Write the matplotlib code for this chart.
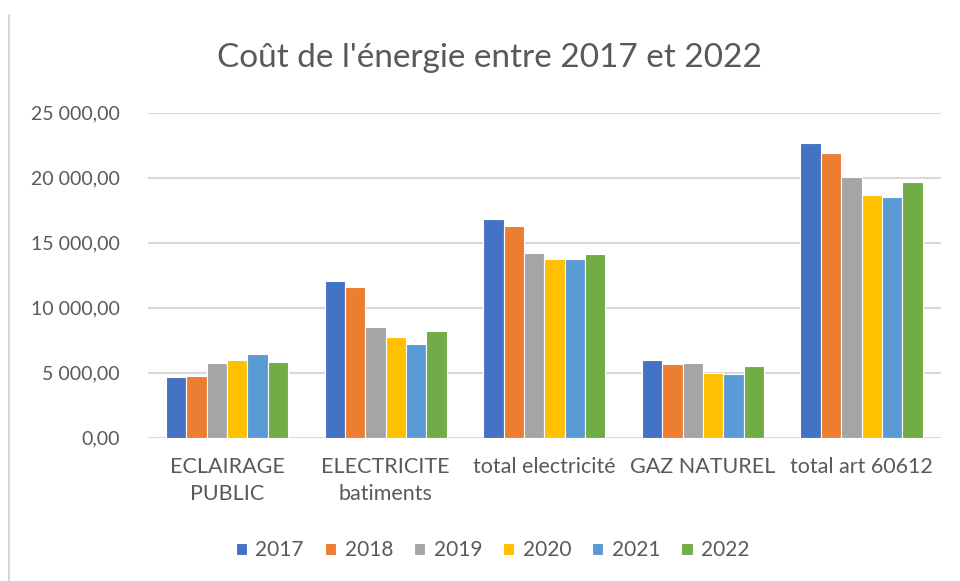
import numpy as np
import matplotlib.pyplot as plt
from matplotlib.lines import Line2D
from matplotlib.ticker import FuncFormatter

plt.rcParams['font.family'] = ['Lato', 'DejaVu Sans']

categories = ["ECLAIRAGE\nPUBLIC", "ELECTRICITE\nbatiments", "total electricité", "GAZ NATUREL", "total art 60612"]
years = ["2017", "2018", "2019", "2020", "2021", "2022"]

v2017 = [4670, 12050, 16800, 5950, 22690]
v2018 = [4770, 11560, 16310, 5640, 21920]
v2019 = [5740, 8510, 14230, 5740, 20050]
v2020 = [5950, 7720, 13720, 4950, 18640]
v2021 = [6440, 7230, 13720, 4870, 18540]
v2022 = [5850, 8230, 14100, 5540, 19640]
series = [v2017, v2018, v2019, v2020, v2021, v2022]

colors = ["#4472C4", "#ED7D31", "#A5A5A5", "#FFC000", "#5B9BD5", "#70AD47"]


def fr_fmt(v, pos):
    s = f"{v:,.2f}"
    return s.replace(",", " ").replace(".", ",")


fig = plt.figure(figsize=(9.6, 5.81), dpi=100)
ax = fig.add_axes([0.154, 0.2466, 0.826, 0.5594])

x = np.arange(len(categories))
width = 0.77 / 6
for i, (vals, c) in enumerate(zip(series, colors)):
    offs = (i - 2.5) * width
    ax.bar(x + offs, vals, width, color=c, edgecolor="white", linewidth=0.8,
           label=years[i], zorder=3)

ax.set_ylim(0, 25000)
ax.set_xlim(-0.5, len(categories) - 0.5)
ax.set_yticks(np.arange(0, 25001, 5000))
ax.yaxis.set_major_formatter(FuncFormatter(fr_fmt))
ax.grid(axis="y", color="#D9D9D9", linewidth=1.5, zorder=0)
ax.set_axisbelow(True)
for s in ax.spines.values():
    s.set_visible(False)
ax.tick_params(axis="both", length=0, labelcolor="#595959")
ax.tick_params(axis="y", pad=20, labelsize=14)
ax.tick_params(axis="x", pad=14, labelsize=15.5)
ax.set_xticks(x)
ax.set_xticklabels(categories, linespacing=1.45)

fig.text(0.51, 0.9, "Coût de l'énergie entre 2017 et 2022", fontsize=24,
         color="#595959", ha="center", va="center")

fig.legend(loc="center", bbox_to_anchor=(0.513, 0.053), ncol=6, frameon=False,
           fontsize=15, labelcolor="#595959", handlelength=0.55, handleheight=0.55,
           handletextpad=0.4, columnspacing=1.0)

fig.add_artist(Line2D([0.009, 0.009], [0.0, 0.975], transform=fig.transFigure,
                      color="#D0D0D0", linewidth=1.2))

fig.savefig("out.png", dpi=100)
